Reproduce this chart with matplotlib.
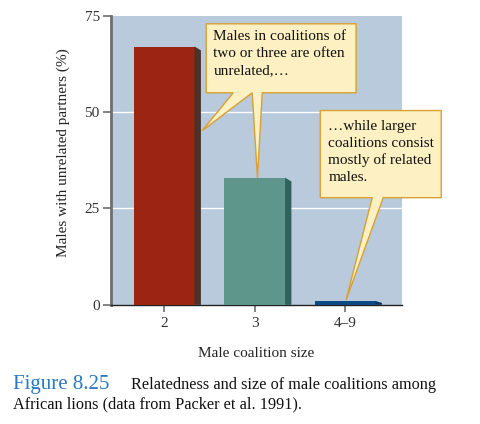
import matplotlib
matplotlib.use("Agg")
import matplotlib.pyplot as plt
from matplotlib.patches import Polygon

# data
sizes = ["2", "3", "4\u20139"]
pct_unrelated = [67, 33, 1]
bar_colors = ["#9b2412", "#5e968c", "#0b4a82"]
shade_colors = ["#4a3129", "#2e625b", "#0a3560"]
yticks = [0, 25, 50, 75]

note_pair = "Males in coalitions of\ntwo or three are often\nunrelated,\u2026"
note_large = "\u2026while larger\ncoalitions consist\nmostly of related\nmales."

SERIF = ["Liberation Serif", "DejaVu Serif"]
plt.rcParams["font.family"] = SERIF

fig = plt.figure(figsize=(4.8, 4.24), dpi=100)
ax = fig.add_axes([0.231, 0.281, 0.607, 0.682])
ax.set_facecolor("#b8cadb")

x = list(range(len(sizes)))
bw = 0.67
bars = ax.bar(x, pct_unrelated, width=bw, color=bar_colors, zorder=3)

# thin dark side face to fake the 3D look
sw = 0.07
for b, c in zip(bars, shade_colors):
    x1 = b.get_x() + b.get_width()
    h = b.get_height()
    drop = min(1.0, h * 0.5)
    side = Polygon([(x1, 0), (x1, h), (x1 + sw, h - drop), (x1 + sw, 0)],
                   closed=True, facecolor=c, edgecolor="none", zorder=3)
    ax.add_patch(side)

ax.set_xlim(-0.59, 2.63)
ax.set_ylim(0, 75)
ax.set_yticks(yticks)
ax.set_xticks(x)
ax.set_xticklabels(sizes)
for yv in yticks[1:-1]:
    ax.axhline(yv, color="white", lw=1.0, zorder=1)

for s in ("top", "right"):
    ax.spines[s].set_visible(False)
ax.spines["left"].set_color("#6e6e6e")
ax.spines["left"].set_linewidth(2.0)
ax.spines["bottom"].set_color("#222222")
ax.spines["bottom"].set_linewidth(1.0)
ax.tick_params(axis="y", length=6, width=1.2, color="#6e6e6e", labelsize=11,
               labelcolor="#333333", pad=2)
ax.tick_params(axis="x", length=5, width=1.2, color="#6e6e6e", labelsize=11,
               labelcolor="#333333", pad=4)

ax.set_ylabel("Males with unrelated partners (%)", fontsize=11, color="#222222")
ax.yaxis.set_label_coords(-0.142, 0.526)
ax.set_xlabel("Male coalition size", fontsize=11, color="#222222", labelpad=12)

# callout boxes (box + pointers as one outline)
box_fc, box_ec = "#fdf0c2", "#d9a032"
x0, x1, yb, yt = 0.464, 2.12, 55.0, 72.9
callout1 = [(x0, yt), (x1, yt), (x1, yb), (1.083, yb), (1.03, 33.0),
            (0.972, yb), (0.42, 45.2), (0.762, yb), (x0, yb)]
ax.add_patch(Polygon(callout1, closed=True, facecolor=box_fc, edgecolor=box_ec,
                     lw=1.0, zorder=5, clip_on=False))
ax.text(x0 + 0.08, yt - 1.7, note_pair, fontsize=11, va="top", ha="left",
        linespacing=1.38, zorder=6, color="#111111")

x0, x1, yb, yt = 1.724, 3.061, 27.8, 50.4
callout2 = [(x0, yt), (x1, yt), (x1, yb), (2.42, yb), (2.01, 1.3),
            (2.298, yb), (x0, yb)]
ax.add_patch(Polygon(callout2, closed=True, facecolor=box_fc, edgecolor=box_ec,
                     lw=1.0, zorder=5, clip_on=False))
ax.text(x0 + 0.09, yt - 2.4, note_large, fontsize=11, va="top", ha="left",
        linespacing=1.38, zorder=6, color="#111111")

# figure caption
fig.text(0.027, 0.083, "Figure 8.25", fontsize=15, color="#2a78bf",
         ha="left", va="baseline")
fig.text(0.273, 0.083, "Relatedness and size of male coalitions among",
         fontsize=11.7, color="#111111", ha="left", va="baseline")
fig.text(0.027, 0.037, "African lions (data from Packer et al. 1991).",
         fontsize=11.7, color="#111111", ha="left", va="baseline")

fig.savefig("out.png", dpi=100)
